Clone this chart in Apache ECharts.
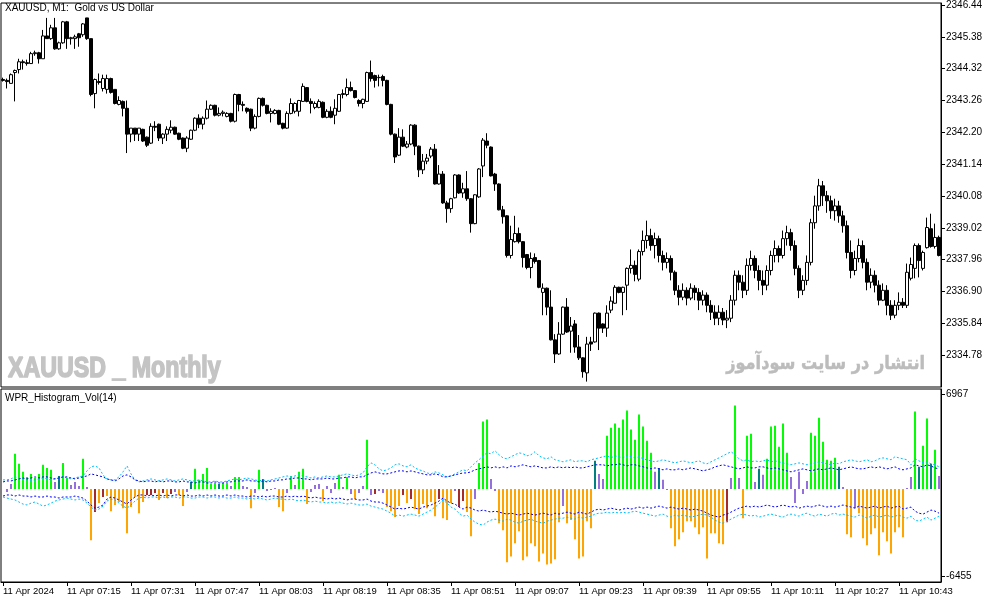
<!DOCTYPE html>
<html><head><meta charset="utf-8">
<script src="https://cdn.jsdelivr.net/npm/echarts@6/dist/echarts.min.js"></script>
<style>html,body{margin:0;padding:0;background:#fff}#c{width:994px;height:603px}</style>
</head><body><div id="c"></div>
<script>
const symbolTitle = 'XAUUSD, M1:  Gold vs US Dollar';
const indicatorTitle = 'WPR_Histogram_Vol(14)';
const watermarkLeft = 'XAUUSD _ Monthly';
const watermarkRight = 'انتشار در سایت سودآموز';
const firstBarMinute = 6 * 60 + 59;
const barCount = 235;

const priceTicks = [2346.44, 2345.38, 2344.32, 2343.26, 2342.20, 2341.14, 2340.08, 2339.02, 2337.96, 2336.90, 2335.84, 2334.78];
const wprTicks = [6967, -6455];
const xTickLabels = ['11 Apr 2024','11 Apr 07:15','11 Apr 07:31','11 Apr 07:47','11 Apr 08:03','11 Apr 08:19','11 Apr 08:35','11 Apr 08:51','11 Apr 09:07','11 Apr 09:23','11 Apr 09:39','11 Apr 09:55','11 Apr 10:11','11 Apr 10:27','11 Apr 10:43'];

const open = [
2343.96,2343.93,2343.83,2344.19,2344.29,2344.55,2344.52,2344.49,2344.82,2344.85,
2344.65,2345.41,2345.32,2345.68,2344.98,2345.18,2345.88,2345.32,2345.32,2345.48,
2345.45,2346.01,2345.32,2343.49,2343.89,2343.66,2343.63,2343.99,2343.63,2343.13,
2343.23,2343.00,2342.14,2342.34,2342.14,2342.30,2342.04,2341.84,2342.40,2342.47,
2342.01,2342.14,2342.27,2342.37,2342.17,2342.01,2341.67,2341.97,2342.27,2342.67,
2342.47,2342.67,2342.97,2343.10,2342.77,2342.83,2342.73,2342.83,2342.57,2343.46,
2343.13,2343.00,2342.97,2342.34,2342.73,2343.33,2343.10,2342.83,2342.83,2342.93,
2342.50,2342.34,2342.83,2342.90,2342.90,2343.23,2343.69,2343.23,2343.03,2343.03,
2343.20,2342.70,2342.90,2342.77,2342.90,2343.46,2343.46,2343.69,2343.59,2343.26,
2343.16,2343.23,2344.19,2344.09,2344.02,2344.06,2343.93,2343.13,2342.14,2341.44,
2342.04,2341.71,2341.81,2342.44,2341.74,2340.95,2341.24,2341.41,2341.64,2340.48,
2340.81,2339.85,2339.66,2340.02,2340.78,2340.18,2340.32,2339.99,2339.16,2340.05,
2341.08,2341.91,2341.71,2340.81,2340.48,2339.62,2339.42,2338.10,2338.56,2338.83,
2338.56,2338.13,2337.70,2338.03,2337.93,2336.87,2337.01,2336.38,2335.29,2334.82,
2335.48,2336.38,2335.58,2335.82,2335.05,2334.69,2334.19,2335.22,2335.22,2336.18,
2335.82,2335.68,2336.28,2336.51,2337.04,2336.87,2337.11,2337.67,2337.77,2337.31,
2338.23,2338.60,2338.76,2338.43,2338.66,2338.10,2337.87,2338.00,2337.54,2336.94,
2336.71,2336.94,2336.68,2337.01,2336.87,2336.61,2336.78,2336.44,2336.21,2336.01,
2336.21,2335.95,2336.01,2336.61,2337.44,2337.21,2336.94,2337.77,2338.00,2337.60,
2337.27,2337.11,2337.60,2338.10,2338.33,2338.10,2338.66,2338.86,2338.43,2337.67,
2336.94,2337.27,2337.87,2339.19,2339.75,2340.42,2340.09,2339.92,2339.59,2339.75,
2339.42,2339.09,2338.20,2337.60,2338.00,2338.43,2337.87,2337.21,2337.44,2337.11,
2336.61,2336.94,2336.44,2336.11,2336.44,2336.54,2336.44,2337.34,2337.67,2338.43,
2337.67,2338.36,2338.99,2338.40,2338.70];
const close = [
2343.93,2343.89,2344.12,2344.26,2344.55,2344.52,2344.49,2344.82,2344.85,2344.65,
2345.41,2345.32,2345.68,2344.98,2345.18,2345.88,2345.32,2345.35,2345.38,2345.35,
2345.81,2345.32,2343.46,2343.96,2343.86,2343.99,2343.99,2343.53,2343.16,2343.26,
2343.00,2342.14,2342.34,2342.14,2342.34,2341.91,2341.77,2342.40,2342.37,2342.01,
2342.14,2342.30,2342.37,2342.14,2341.97,2341.67,2342.01,2342.27,2342.67,2342.47,
2342.67,2342.97,2343.10,2342.77,2342.83,2342.87,2342.83,2342.57,2343.46,2343.13,
2343.10,2342.90,2342.34,2342.73,2343.33,2343.10,2342.83,2342.90,2342.93,2342.47,
2342.34,2342.83,2343.16,2343.16,2343.26,2343.73,2343.23,2343.16,2343.16,2343.23,
2342.70,2342.90,2342.70,2343.00,2343.46,2343.49,2343.69,2343.59,2343.36,2343.16,
2343.30,2344.19,2343.99,2343.93,2344.03,2343.93,2343.13,2342.14,2341.38,2342.04,
2341.74,2341.81,2342.44,2341.74,2340.95,2341.24,2341.34,2341.64,2340.48,2340.81,
2339.85,2339.66,2339.99,2340.78,2340.18,2340.32,2339.99,2339.16,2340.12,2340.98,
2341.94,2341.77,2340.75,2340.48,2339.62,2339.39,2338.10,2338.63,2338.83,2338.56,
2338.03,2337.70,2338.00,2337.90,2337.04,2337.01,2336.38,2335.29,2334.82,2335.48,
2336.38,2335.55,2335.75,2335.05,2334.69,2334.23,2335.15,2335.15,2336.18,2335.68,
2335.68,2336.18,2336.58,2337.04,2336.87,2337.04,2337.67,2337.77,2337.47,2338.23,
2338.60,2338.76,2338.43,2338.66,2338.10,2337.87,2338.00,2337.54,2336.94,2336.71,
2336.94,2336.68,2337.01,2336.87,2336.61,2336.78,2336.44,2336.21,2336.01,2336.21,
2335.95,2336.01,2336.61,2337.44,2337.21,2336.94,2337.77,2338.00,2337.60,2337.27,
2337.11,2337.60,2338.10,2338.33,2338.10,2338.66,2338.86,2338.43,2337.67,2336.94,
2337.27,2337.87,2339.19,2339.75,2340.42,2340.09,2339.92,2339.59,2339.75,2339.42,
2339.09,2338.20,2337.60,2338.00,2338.43,2337.87,2337.21,2337.44,2337.11,2336.61,
2336.94,2336.44,2336.11,2336.44,2336.54,2336.44,2337.54,2337.80,2338.43,2337.93,
2338.20,2339.03,2338.40,2338.70,2338.10];
const high = [
2344.02,2343.99,2344.16,2344.29,2344.65,2344.62,2344.62,2344.88,2344.92,2344.88,
2345.61,2346.01,2345.78,2346.01,2345.22,2345.91,2345.91,2345.38,2345.45,2345.51,
2345.84,2346.01,2345.32,2343.99,2344.16,2344.12,2344.12,2344.02,2343.63,2343.40,
2343.26,2343.26,2342.34,2342.34,2342.34,2342.32,2342.06,2342.50,2342.57,2342.49,
2342.17,2342.40,2342.60,2342.39,2342.19,2342.03,2342.07,2342.29,2342.70,2342.80,
2342.73,2343.26,2343.13,2343.12,2343.03,2342.93,2342.87,2342.85,2343.49,2343.48,
2343.23,2343.03,2342.99,2342.80,2343.36,2343.36,2343.12,2343.00,2342.97,2342.95,
2342.52,2342.90,2343.33,2343.20,2343.28,2343.83,2343.71,2343.33,2343.23,2343.30,
2343.23,2342.97,2343.06,2343.30,2343.48,2343.63,2343.99,2343.89,2343.61,2343.30,
2343.32,2344.22,2344.59,2344.12,2344.12,2344.12,2343.95,2343.15,2342.16,2342.34,
2342.30,2341.91,2342.47,2342.47,2341.76,2341.48,2341.48,2341.71,2341.81,2341.11,
2340.91,2339.92,2340.02,2340.81,2340.80,2340.52,2340.91,2340.01,2340.14,2341.01,
2342.01,2342.17,2341.73,2340.85,2340.50,2339.75,2339.44,2339.09,2339.42,2339.03,
2338.58,2338.15,2338.20,2338.17,2337.95,2337.17,2337.03,2336.94,2335.48,2335.88,
2336.40,2336.68,2336.05,2335.95,2335.45,2334.71,2335.39,2335.39,2336.20,2336.20,
2335.84,2336.44,2336.74,2337.11,2337.06,2337.06,2337.70,2338.30,2337.93,2338.30,
2338.93,2339.26,2338.99,2338.86,2338.76,2338.26,2338.20,2338.10,2337.60,2337.11,
2337.17,2337.04,2337.17,2337.11,2337.01,2336.94,2336.87,2336.61,2336.44,2336.44,
2336.35,2336.28,2336.78,2337.60,2337.60,2337.44,2338.00,2338.26,2338.10,2337.77,
2337.60,2337.77,2338.26,2338.60,2338.43,2338.93,2339.09,2338.99,2338.60,2337.77,
2337.44,2338.10,2339.32,2340.09,2340.65,2340.58,2340.25,2340.09,2339.99,2339.92,
2339.59,2339.26,2338.60,2338.26,2338.66,2338.60,2338.00,2337.67,2337.60,2337.27,
2337.17,2337.11,2336.61,2336.61,2336.87,2336.68,2337.83,2338.03,2338.50,2338.50,
2338.26,2339.36,2339.49,2339.16,2338.76];
const low = [
2343.89,2343.66,2343.83,2343.23,2344.16,2344.29,2344.42,2344.49,2344.75,2344.49,
2344.65,2345.32,2345.28,2344.95,2344.95,2345.15,2344.98,2345.12,2344.98,2345.05,
2345.38,2345.28,2343.40,2343.00,2343.79,2343.56,2343.49,2343.49,2343.13,2343.10,
2342.73,2341.51,2341.87,2341.91,2341.91,2341.88,2341.71,2341.81,2342.24,2341.91,
2341.81,2341.91,2342.17,2342.12,2341.94,2341.64,2341.54,2341.95,2342.24,2342.34,
2342.30,2342.63,2342.95,2342.73,2342.73,2342.73,2342.70,2342.53,2342.53,2342.90,
2342.90,2342.83,2342.24,2342.30,2342.70,2343.06,2342.80,2342.53,2342.80,2342.44,
2342.30,2342.32,2342.80,2342.83,2342.73,2343.21,2343.20,2342.83,2342.97,2343.00,
2342.67,2342.67,2342.67,2342.47,2342.88,2343.33,2343.40,2343.56,2343.33,2343.06,
2343.00,2343.21,2343.89,2343.69,2343.73,2343.73,2343.10,2342.10,2341.18,2341.41,
2341.71,2341.67,2341.77,2341.44,2340.71,2340.81,2341.14,2341.34,2340.46,2340.46,
2339.82,2339.19,2339.52,2340.00,2340.15,2340.02,2339.92,2338.86,2339.14,2340.02,
2340.71,2341.67,2340.73,2340.25,2339.60,2339.16,2338.03,2338.00,2338.53,2338.50,
2337.70,2337.64,2337.34,2337.83,2337.01,2336.11,2336.11,2335.27,2334.52,2334.79,
2335.46,2335.52,2334.86,2334.86,2334.62,2334.03,2333.90,2334.92,2335.20,2334.95,
2335.52,2335.39,2336.18,2336.49,2336.84,2336.11,2336.28,2337.50,2337.24,2337.24,
2338.10,2338.33,2338.26,2338.00,2337.87,2337.60,2337.67,2337.27,2336.78,2336.44,
2336.61,2336.44,2336.61,2336.61,2336.28,2336.44,2336.21,2335.95,2335.78,2335.78,
2335.78,2335.68,2335.88,2336.44,2336.94,2336.68,2336.78,2337.60,2337.34,2336.94,
2336.78,2336.94,2337.44,2337.87,2337.87,2338.00,2338.43,2338.26,2337.44,2336.68,
2336.78,2337.11,2337.77,2338.99,2339.59,2339.75,2339.52,2339.32,2339.26,2339.19,
2338.86,2338.00,2337.34,2337.44,2337.87,2337.67,2336.94,2337.01,2336.87,2336.44,
2336.58,2336.11,2335.95,2336.01,2336.28,2336.35,2336.35,2337.27,2337.34,2337.37,
2337.60,2338.33,2338.36,2338.33,2338.07];

const histValue = [
0,-220,370,2590,1850,1260,890,1110,810,1110,
1780,1550,1410,520,960,1920,810,300,520,220,
2220,150,-3770,-1700,-1040,-590,-520,-1630,-1180,-960,
-1410,-3260,-1330,-590,-1780,-960,-440,-440,-300,-810,
-300,-670,-370,-220,-440,-1260,-220,520,1480,670,
1110,1550,370,440,370,440,440,220,890,890,
220,150,-1410,-300,1410,740,-150,-70,70,-1330,
-1630,-300,960,300,1260,1480,-1110,-220,300,370,
-890,220,-300,440,1040,150,890,-370,-740,-300,
220,3630,-440,-370,-150,-300,-1330,-1630,-2070,-1260,
-440,-1040,-740,-1480,-1850,-1110,-1410,-960,-2000,-740,
-2150,-2290,-1040,-150,-1330,-890,-1700,-3480,-740,1920,
4960,5110,740,-150,-2520,-3030,-5400,-4960,-4000,-3110,
-5250,-4960,-4000,-4220,-5330,-4740,-5550,-5480,-5180,-2440,
-1260,-2520,-2290,-3700,-5110,-4960,-2370,-2890,2070,1110,
740,3920,4510,4810,4510,5110,5770,4370,3630,5480,
4590,3550,2660,1260,1550,670,-70,-2890,-4220,-3700,
-3180,-2370,-2370,-2810,-3330,-2810,-5110,-3260,-3260,-4000,
-4070,-2440,810,6140,810,-2150,3920,4070,520,1480,
1040,2220,4590,4660,3110,4810,2660,890,-1040,1260,
-370,590,4140,3920,5250,3480,2150,2070,2290,1630,
150,-3330,-3550,-1410,-1780,-3630,-4140,-3330,-2890,-4880,
-3180,-3850,-4740,-3180,-2810,-3550,70,890,5700,1630,
3180,5180,1850,2890,960];
// indicator colour buffer: G strong up, T weak up, P neutral, O strong down, R weak down
const histState = ('PPPGGGGGGG'+'GGGPTGGPPP'+'GPOROROOOO'+'OOOOOORRRO'+'RORPOOPTGG'+
 'GGGGTGGPGG'+'PPOPGTPPPO'+'OPGPGGOPPP'+'OPPPGPGPOP'+'PGPRPPOOOO'+
 'ROROOOOOOR'+'OOOPRROOPG'+'GGPPOOOOOO'+'OOOOOOOOOO'+'POOOOOOOTP'+
 'PGGGGGGGGG'+'GGGPTPPOOO'+'OOOOOOOOOO'+'ORPGPOGGPT'+'PGGGGGGPPP'+
 'PPGGGGGGGT'+'POOPOOOOOO'+'OOOOOOPPGT'+'GGTGP').split('');

const upperCyan = [
670,670,740,890,810,740,670,590,670,740,
810,740,670,740,810,890,810,740,810,890,
960,1330,1630,1700,1550,1040,740,670,670,890,
1260,1700,1110,670,520,590,670,740,670,590,
670,740,670,590,670,740,670,590,590,670,
590,520,520,590,520,520,590,670,740,670,
740,810,740,670,590,670,590,670,740,810,
890,960,890,960,1040,960,890,810,890,810,
890,960,890,890,960,1040,1110,1040,960,1040,
1180,1630,1920,1780,1480,1330,1410,1550,1780,1850,
1700,1630,1780,1550,1410,1330,1180,1110,1260,1180,
1040,890,960,1110,1260,1410,1330,1630,1920,2150,
2440,2660,2590,2810,2520,2290,2220,2370,2520,2660,
2590,2440,2520,2740,2440,2290,2220,2370,2150,2070,
2000,2070,2150,2000,2070,2070,2000,2150,2220,2290,
2370,2440,2290,2440,2370,2290,2440,2370,2290,2370,
2220,2150,2070,2000,2070,2150,2070,2000,1920,2000,
2070,2000,1920,2000,2070,1920,1850,2000,2150,2290,
2440,2590,2740,2520,2220,2070,2150,2000,2070,2000,
2070,2150,2000,2070,2000,1920,1850,1780,1850,1920,
1850,1780,1850,1920,2000,1920,1850,1780,1920,1850,
2000,2070,2150,2070,2000,2070,2150,2000,2070,2220,
2290,2220,2150,2370,2290,2220,2150,1780,2220,2070,
1920,2000,1850,1780,1630];
const upperBlue = [
520,590,590,670,740,810,740,810,890,810,
890,890,810,740,810,890,890,810,740,810,
890,960,1110,1040,960,890,740,670,590,740,
960,1040,890,670,590,520,590,590,520,590,
520,590,590,520,520,590,520,520,440,520,
520,440,440,520,440,440,520,520,590,590,
590,670,590,590,520,590,520,590,590,670,
670,740,740,810,810,740,740,670,740,740,
740,810,740,740,810,810,890,890,810,890,
890,1040,1180,1260,1180,1110,1110,1180,1260,1330,
1330,1260,1330,1260,1180,1110,1040,1040,1110,1040,
890,890,960,1040,1110,1180,1180,1260,1410,1480,
1550,1630,1550,1630,1550,1630,1550,1700,1630,1700,
1780,1700,1630,1700,1630,1550,1550,1630,1550,1630,
1550,1630,1550,1630,1550,1550,1630,1700,1780,1780,
1780,1700,1780,1780,1850,1780,1700,1780,1780,1700,
1630,1550,1480,1550,1480,1410,1480,1410,1410,1480,
1410,1480,1550,1480,1410,1330,1410,1480,1630,1700,
1780,1700,1630,1550,1480,1550,1630,1550,1550,1630,
1630,1550,1480,1550,1480,1410,1330,1260,1330,1410,
1480,1410,1330,1410,1480,1410,1480,1550,1480,1410,
1480,1550,1630,1550,1480,1480,1550,1630,1550,1630,
1550,1480,1550,1630,1480,1410,1480,1550,1780,1700,
1630,1780,1700,1550,1480];
const lowerBlue = [
-520,-440,-440,-520,-440,-520,-520,-590,-520,-590,
-590,-520,-590,-590,-670,-590,-590,-590,-520,-590,
-670,-890,-1180,-1410,-1330,-1180,-740,-590,-670,-810,
-960,-1110,-810,-590,-440,-440,-520,-440,-520,-440,
-520,-440,-520,-440,-440,-520,-440,-520,-520,-440,
-520,-440,-520,-440,-520,-520,-440,-520,-440,-520,
-520,-590,-520,-520,-590,-520,-590,-520,-520,-590,
-590,-520,-590,-520,-590,-520,-590,-670,-590,-670,
-670,-740,-670,-740,-670,-740,-810,-740,-740,-810,
-810,-740,-890,-960,-960,-1040,-1180,-1330,-1480,-1410,
-1480,-1410,-1330,-1410,-1480,-1330,-1260,-1180,-1040,-890,
-670,-890,-1040,-1110,-1330,-1480,-1330,-1410,-1550,-1630,
-1550,-1630,-1700,-1630,-1700,-1780,-1850,-1780,-1850,-1920,
-1850,-1780,-1850,-1920,-1850,-1780,-1850,-1920,-1780,-1850,
-1780,-1700,-1780,-1850,-1700,-1780,-1850,-1700,-1550,-1480,
-1550,-1480,-1410,-1480,-1550,-1480,-1410,-1480,-1410,-1330,
-1410,-1330,-1410,-1330,-1260,-1330,-1410,-1330,-1410,-1480,
-1410,-1480,-1550,-1480,-1550,-1630,-1780,-1920,-2000,-2070,
-1920,-1850,-1700,-1550,-1410,-1330,-1260,-1330,-1260,-1330,
-1260,-1180,-1260,-1330,-1260,-1180,-1260,-1330,-1260,-1410,
-1330,-1260,-1330,-1260,-1180,-1260,-1330,-1260,-1330,-1260,
-1180,-1260,-1330,-1410,-1260,-1330,-1410,-1330,-1260,-1410,
-1330,-1260,-1410,-1330,-1260,-1480,-1410,-1330,-1630,-1780,
-1850,-1700,-1550,-1630,-1780];
const lowerCyan = [
-590,-670,-740,-810,-960,-1110,-1180,-1040,-960,-1110,
-1260,-1180,-1040,-890,-810,-740,-670,-740,-810,-740,
-810,-1040,-1330,-1550,-1480,-1260,-890,-740,-810,-1040,
-1260,-1410,-1180,-890,-670,-590,-670,-590,-590,-670,
-590,-670,-590,-590,-670,-590,-590,-670,-670,-590,
-590,-670,-590,-590,-670,-590,-670,-670,-590,-670,
-670,-740,-670,-740,-670,-740,-810,-740,-670,-740,
-740,-810,-740,-810,-890,-810,-890,-960,-890,-960,
-960,-1040,-960,-1040,-960,-1040,-1110,-1040,-1110,-1180,
-1180,-1110,-1260,-1330,-1410,-1480,-1630,-1780,-2000,-1920,
-2000,-1920,-1850,-1920,-2000,-1850,-1700,-1550,-1330,-1110,
-810,-1040,-1330,-1480,-1780,-2000,-1920,-2220,-2440,-2590,
-2660,-2440,-2290,-2220,-2290,-2370,-2220,-2290,-2440,-2520,
-2370,-2290,-2220,-2370,-2440,-2520,-2370,-2290,-2220,-2150,
-2150,-2070,-2150,-2220,-2070,-2150,-2070,-2000,-1850,-1780,
-1780,-1700,-1780,-1700,-1780,-1700,-1780,-1700,-1630,-1700,
-1780,-1850,-1920,-2000,-1920,-1850,-2000,-2070,-1920,-2000,
-1920,-2000,-2070,-2000,-1920,-1850,-1920,-2070,-2290,-2440,
-2520,-2370,-2220,-2070,-1920,-1850,-1920,-2000,-1920,-2070,
-2000,-1920,-1850,-1920,-2000,-2070,-1920,-1850,-1920,-2000,
-1850,-1780,-1920,-2000,-1850,-1920,-2000,-1850,-1780,-1920,
-1850,-1920,-2000,-2070,-1920,-2000,-2150,-2000,-1920,-2070,
-2000,-1920,-2070,-2000,-1920,-2070,-2150,-2000,-2290,-2370,
-2220,-2070,-2290,-2150,-2000];

// ---- build ----
const categories = [];
for (let i = 0; i < barCount; i++) {
  const m = firstBarMinute + i;
  categories.push(String(Math.floor(m / 60)).padStart(2, '0') + ':' + String(m % 60).padStart(2, '0'));
}
const ohlc = open.map((o, i) => [o, close[i], low[i], high[i]]);
const stateColor = { G: '#00FF00', T: '#008080', P: '#9370DB', O: '#FFA500', R: '#A52A2A' };
const histData = histValue.map((v, i) => ({ value: v, itemStyle: { color: stateColor[histState[i]] } }));

const FONT = '"Liberation Sans", Arial, sans-serif';
const chart = echarts.init(document.getElementById('c'), null, { renderer: 'canvas' });
const tickEvery = 16;
chart.setOption({
  animation: false,
  backgroundColor: '#ffffff',
  textStyle: { fontFamily: FONT },
  grid: [
    { left: 1, top: 1, width: 940, height: 386, show: true, borderColor: '#000', borderWidth: 1, backgroundColor: 'transparent' },
    { left: 1, top: 389, width: 940, height: 193, show: true, borderColor: '#000', borderWidth: 1, backgroundColor: 'transparent' }
  ],
  xAxis: [
    { type: 'category', gridIndex: 0, data: categories, boundaryGap: true,
      axisLine: { show: false, onZero: false }, axisTick: { show: false }, axisLabel: { show: false }, splitLine: { show: false } },
    { type: 'category', gridIndex: 1, data: categories, boundaryGap: true, position: 'bottom',
      axisLine: { show: true, onZero: false, lineStyle: { color: '#000', width: 1 } },
      axisTick: { show: true, alignWithLabel: true, length: 4, interval: (i) => i % tickEvery === 0, lineStyle: { color: '#000' } },
      axisLabel: { show: true, interval: (i) => i % tickEvery === 0, align: 'left', margin: 4, color: '#000', fontSize: 9.5, fontFamily: FONT,
        formatter: (v, i) => xTickLabels[Math.round(i / tickEvery)] || '' },
      splitLine: { show: false } }
  ],
  yAxis: [
    { type: 'value', gridIndex: 0, position: 'right', min: 2333.72, max: 2346.506, scale: true,
      axisLine: { show: true, lineStyle: { color: '#000' } },
      axisTick: { show: true, length: 4, customValues: priceTicks, lineStyle: { color: '#000' } },
      axisLabel: { show: true, customValues: priceTicks, margin: 5, color: '#000', fontSize: 10, fontFamily: FONT, formatter: (v) => v.toFixed(2) },
      splitLine: { show: false } },
    { type: 'value', gridIndex: 1, position: 'right', min: -6845, max: 7357,
      axisLine: { show: true, lineStyle: { color: '#000' } },
      axisTick: { show: true, length: 4, customValues: wprTicks, lineStyle: { color: '#000' } },
      axisLabel: { show: true, customValues: wprTicks, margin: 5, color: '#000', fontSize: 10, fontFamily: FONT, formatter: (v) => String(Math.round(v)) },
      splitLine: { show: false } }
  ],
  graphic: [
    { type: 'text', x: 5, y: 3, z: 100, style: { text: symbolTitle, font: '10px ' + FONT, fill: '#000', verticalAlign: 'top' } },
    { type: 'text', x: 5, y: 393, z: 100, style: { text: indicatorTitle, font: '10px ' + FONT, fill: '#000', verticalAlign: 'top' } },
    { type: 'text', x: 8, y: 354, scaleX: 0.8, z: 1, style: { text: watermarkLeft, font: 'bold 29px "Liberation Sans", Arial, sans-serif', fill: '#c4c4c4', stroke: '#c4c4c4', lineWidth: 1.6, verticalAlign: 'top' } },
    { type: 'text', x: 925, y: 355, scaleX: 0.85, z: 1, style: { text: watermarkRight, font: 'bold 19px "DejaVu Sans", sans-serif', fill: '#bcbcbc', stroke: '#bcbcbc', lineWidth: 0.5, align: 'right', verticalAlign: 'top' } }
  ],
  series: [
    { type: 'candlestick', xAxisIndex: 0, yAxisIndex: 0, data: ohlc, barWidth: 3, z: 5,
      itemStyle: { color: '#ffffff', color0: '#000000', borderColor: '#000000', borderColor0: '#000000', borderWidth: 1 } },
    { type: 'bar', xAxisIndex: 1, yAxisIndex: 1, data: histData, barWidth: 2, z: 2 },
    { type: 'line', xAxisIndex: 1, yAxisIndex: 1, data: upperCyan, symbol: 'none', z: 4, lineStyle: { color: '#00BFFF', width: 1, type: [2, 2] } },
    { type: 'line', xAxisIndex: 1, yAxisIndex: 1, data: upperBlue, symbol: 'none', z: 4, lineStyle: { color: '#0000FF', width: 1, type: [2, 2] } },
    { type: 'line', xAxisIndex: 1, yAxisIndex: 1, data: lowerBlue, symbol: 'none', z: 4, lineStyle: { color: '#0000FF', width: 1, type: [2, 2] } },
    { type: 'line', xAxisIndex: 1, yAxisIndex: 1, data: lowerCyan, symbol: 'none', z: 4, lineStyle: { color: '#00BFFF', width: 1, type: [2, 2] } }
  ]
});
</script>
</body></html>
